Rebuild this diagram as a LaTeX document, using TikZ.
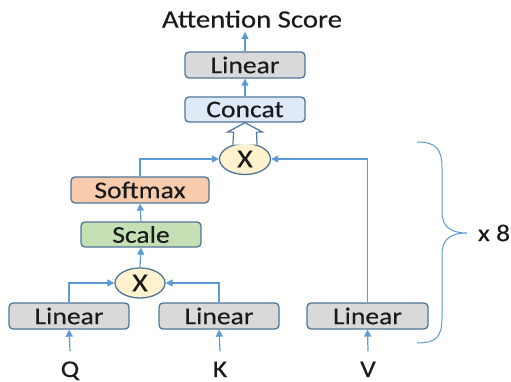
\documentclass[tikz,border=0pt]{standalone}
\usepackage{fontspec}
\setmainfont{Carlito}[FakeStretch=1.15,FakeBold=0.3]
\usetikzlibrary{arrows.meta,shapes.geometric,calc}
\definecolor{lineblue}{HTML}{5B9BD5}
\definecolor{boxedge}{HTML}{4F7499}
\definecolor{lingray}{HTML}{D9D9D9}
\definecolor{concatfill}{HTML}{DEEBF7}
\definecolor{softfill}{HTML}{F8CBAD}
\definecolor{scalefill}{HTML}{C5E0B4}
\definecolor{xfill}{HTML}{FFF2CC}
\definecolor{txt}{HTML}{1A1A1A}
\tikzset{
  box/.style={draw=boxedge, line width=1.3pt, rounded corners=4pt, minimum height=26pt,
    minimum width=120pt, inner sep=0pt, text=txt, font=\fontsize{24}{28}\selectfont},
  linbox/.style={box, fill=lingray},
  mulnode/.style={ellipse, draw=boxedge, line width=1.3pt, fill=xfill, minimum width=51pt,
    minimum height=31pt, inner sep=0pt, text=txt, font=\fontsize{26}{30}\selectfont},
  lbl/.style={text=txt, inner sep=0pt, font=\fontsize{24}{28}\selectfont},
  arr/.style={draw=lineblue, line width=1.2pt, -{Triangle[length=7pt,width=7pt]}},
  ln/.style={draw=lineblue, line width=1.2pt},
}
\begin{document}
\begin{tikzpicture}[x=1pt,y=-1pt]
\useasboundingbox (0,0) rectangle (511,382);
% nodes
\node[lbl, font=\fontsize{25}{30}\selectfont] (title) at (252,19) {Attention Score};
\node[linbox] (lin4) at (245,65) {Linear};
\node[box, fill=concatfill, minimum height=25pt] (concat) at (245,109.5) {Concat};
\node[mulnode] (x2) at (245,159) {X};
\node[box, fill=softfill, minimum width=138pt] (softmax) at (140,190) {Softmax};
\node[box, fill=scalefill, minimum height=25pt] (scale) at (141,234.5) {Scale};
\node[mulnode, minimum height=30pt, minimum width=50pt] (x1) at (140,283) {X};
\node[linbox] (lq) at (69,316) {Linear};
\node[linbox] (lk) at (219,316) {Linear};
\node[linbox, minimum width=121pt] (lv) at (367.5,316) {Linear};
\node[lbl, anchor=base] (q) at (70,377) {Q};
\node[lbl, anchor=base] (k) at (220,377) {K};
\node[lbl, anchor=base] (v) at (368,377) {V};
\node[lbl] (x8) at (494,233) {x 8};
% connectors
\draw[arr] (lin4.north) -- ($(lin4.north |- title.south)+(0,4)$);
\draw[arr] (concat.north) -- (lin4.south);
\draw[arr] (scale.north) -- (softmax.south);
\draw[arr] (x1.north) -- (scale.south);
\draw[arr] (softmax.north) |- (x2.west);
\draw[arr] (lv.north) |- (x2.east);
\draw[arr] (lq.north) |- (x1.west);
\draw[arr] (lk.north) |- (x1.east);
\draw[arr] ([yshift=10pt]q.north) -- (lq.south);
\draw[arr] ([yshift=10pt]k.north) -- (lk.south);
\draw[arr] ([yshift=10pt]v.north) -- (lv.south);
% hollow block arrow
\draw[draw=boxedge, line width=1.2pt, fill=white, line join=miter]
  (x2.130) -- ($(concat.south)+(-11.5,9.5)$) -- ($(concat.south)+(-17.5,9.5)$)
  -- (concat.south) -- ($(concat.south)+(17.5,9.5)$) -- ($(concat.south)+(11.5,9.5)$)
  -- (x2.50);
% brace
\draw[ln, line width=1pt] (417,142) .. controls (436,142) and (442,149) .. (442,168)
  -- (442,212) .. controls (442,227) and (451,233) .. (467,233)
  .. controls (451,233) and (442,239) .. (442,254)
  -- (442,318) .. controls (442,337) and (436,343) .. (417,343);
\end{tikzpicture}
\end{document}
